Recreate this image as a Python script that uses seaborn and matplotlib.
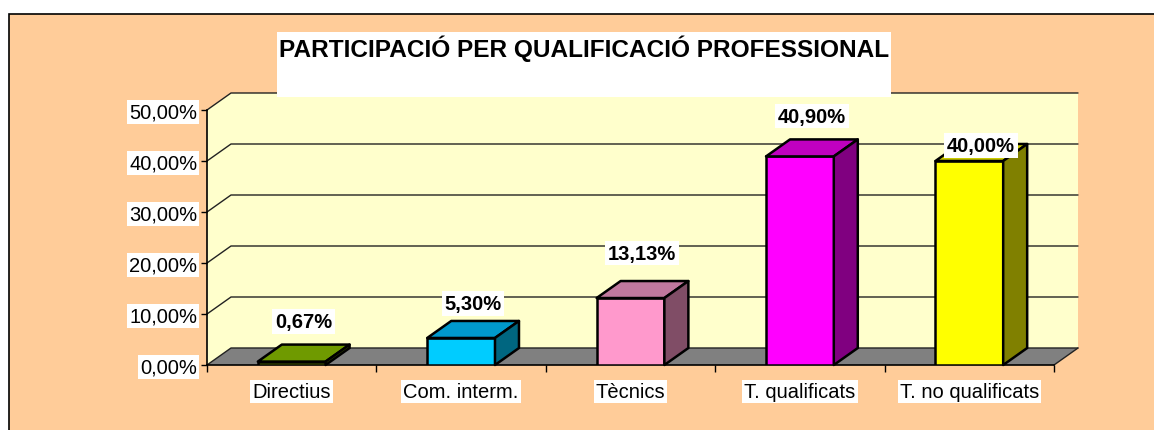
import pandas as pd
import numpy as np
import seaborn as sns
from matplotlib import pyplot as plt
from matplotlib.patches import Polygon, Rectangle

sns.set_style("white")
plt.rcParams["font.family"] = ["Liberation Sans", "DejaVu Sans"]
plt.rcParams["text.color"] = "black"
plt.rcParams["xtick.color"] = "black"
plt.rcParams["ytick.color"] = "black"

# Data
categories = ["Directius", "Com. interm.", "Tècnics", "T. qualificats", "T. no qualificats"]
values = [0.67, 5.30, 13.13, 40.90, 40.00]
value_labels = ["0,67%", "5,30%", "13,13%", "40,90%", "40,00%"]
y_ticks = [0, 10, 20, 30, 40, 50]
y_tick_labels = ["0,00%", "10,00%", "20,00%", "30,00%", "40,00%", "50,00%"]
title = "PARTICIPACIÓ PER QUALIFICACIÓ PROFESSIONAL"

# Excel-like colours: front face, top (a bit darker), side (half)
front_colors = ["#7FB000", "#00CCFF", "#FF99CC", "#FF00FF", "#FFFF00"]
top_colors = ["#6F9A00", "#0099CC", "#C0789E", "#C000C0", "#CCCC00"]
side_colors = ["#466000", "#006680", "#804D66", "#800080", "#808000"]

# layout: how far above each bar its label sits (in % units)
label_lift = [7.9, 6.7, 8.8, 7.9, 3.1]

W, H = 1154, 431
fig = plt.figure(figsize=(W / 100, H / 100), dpi=100)
fig.patch.set_facecolor("white")

# chart area frame
fig.patches.append(Rectangle((9 / W, -0.1), 1.2, (H - 15) / H + 0.1, transform=fig.transFigure,
                             facecolor="#FFCC99", edgecolor="black", linewidth=1.2, zorder=-5))

ax = fig.add_axes([207 / W, (H - 366) / H, (1054 - 207) / W, (366 - 111) / H])
ax.set_facecolor("none")

n = len(categories)
dx = 24 / ((1054 - 207) / n)   # depth offset in category units
dy = 17 / ((366 - 111) / 50)   # depth offset in % units
x0, x1 = -0.5, n - 0.5
ymax = 50

# back wall, side wall and floor
ax.add_patch(Polygon([(x0 + dx, dy), (x1 + dx, dy), (x1 + dx, ymax + dy), (x0 + dx, ymax + dy)],
                     facecolor="#FFFFCC", edgecolor="none", zorder=0, clip_on=False))
ax.add_patch(Polygon([(x0, 0), (x0 + dx, dy), (x0 + dx, ymax + dy), (x0, ymax)],
                     facecolor="#FFFFCC", edgecolor="none", zorder=0, clip_on=False))
ax.add_patch(Polygon([(x0, 0), (x1, 0), (x1 + dx, dy), (x0 + dx, dy)],
                     facecolor="#808080", edgecolor="none", zorder=1, clip_on=False))
for t in y_ticks:
    ax.plot([x0, x0 + dx, x1 + dx], [t, t + dy, t + dy], color="#222222", lw=1,
            zorder=1.5, clip_on=False)
ax.plot([x1, x1 + dx], [0, dy], color="#222222", lw=1, zorder=1.5, clip_on=False)

# front faces through seaborn
df = pd.DataFrame({"categoria": categories, "valor": values})
sns.barplot(data=df, x="categoria", y="valor", hue="categoria", palette=front_colors,
            saturation=1, width=0.4, edgecolor="black", linewidth=1.8, legend=False,
            ax=ax, zorder=5)

for p in list(ax.patches):
    if not isinstance(p, Rectangle) or p.get_height() <= 0 or p.get_width() > 1:
        continue
    bx, bw, bh = p.get_x(), p.get_width(), p.get_height()
    k = int(round(bx + bw / 2))
    ax.add_patch(Polygon([(bx, bh), (bx + bw, bh), (bx + bw + dx, bh + dy), (bx + dx, bh + dy)],
                         facecolor=top_colors[k], edgecolor="black", linewidth=1.8,
                         joinstyle="round", zorder=6, clip_on=False))
    ax.add_patch(Polygon([(bx + bw, 0), (bx + bw + dx, dy), (bx + bw + dx, bh + dy), (bx + bw, bh)],
                         facecolor=side_colors[k], edgecolor="black", linewidth=1.8,
                         joinstyle="round", zorder=6, clip_on=False))

for k, (v, lab) in enumerate(zip(values, value_labels)):
    ax.text(k + 0.07, v + label_lift[k], lab, ha="center", va="center", fontsize=14.5,
            fontweight="bold", zorder=10, clip_on=False,
            bbox=dict(facecolor="white", edgecolor="none", pad=2))

ax.set_xlim(x0, x1)
ax.set_ylim(0, ymax)
ax.set_xlabel("")
ax.set_ylabel("")
ax.set_yticks(y_ticks)
ax.set_yticklabels(y_tick_labels, fontsize=14.5)
ax.set_xticks(range(n))
ax.set_xticklabels(categories, fontsize=14.5)
ax.set_xticks(np.arange(x0, x1 + 0.01, 1), minor=True)
ax.tick_params(axis="x", which="major", length=0, pad=12)
ax.tick_params(axis="x", which="minor", length=5, width=1, color="black", direction="out", bottom=True)
ax.tick_params(axis="y", length=4, width=1, color="black", direction="out", left=True, pad=3)
for t in ax.get_yticklabels() + ax.get_xticklabels():
    t.set_bbox(dict(facecolor="white", edgecolor="none", pad=1.5))

sns.despine(ax=ax, top=True, right=True)
for side in ("left", "bottom"):
    ax.spines[side].set_color("black")
    ax.spines[side].set_linewidth(1.2)
    ax.spines[side].set_zorder(4)

# title on a white box
fig.patches.append(Rectangle((277 / W, (H - 98) / H), (891 - 277) / W, 65 / H,
                             transform=fig.transFigure, facecolor="white", edgecolor="none",
                             zorder=20))
fig.text(584 / W, (H - 57) / H, title, ha="center", va="baseline", fontsize=17.6,
         fontweight="bold", zorder=21)

fig.savefig("out.png", dpi=100)
